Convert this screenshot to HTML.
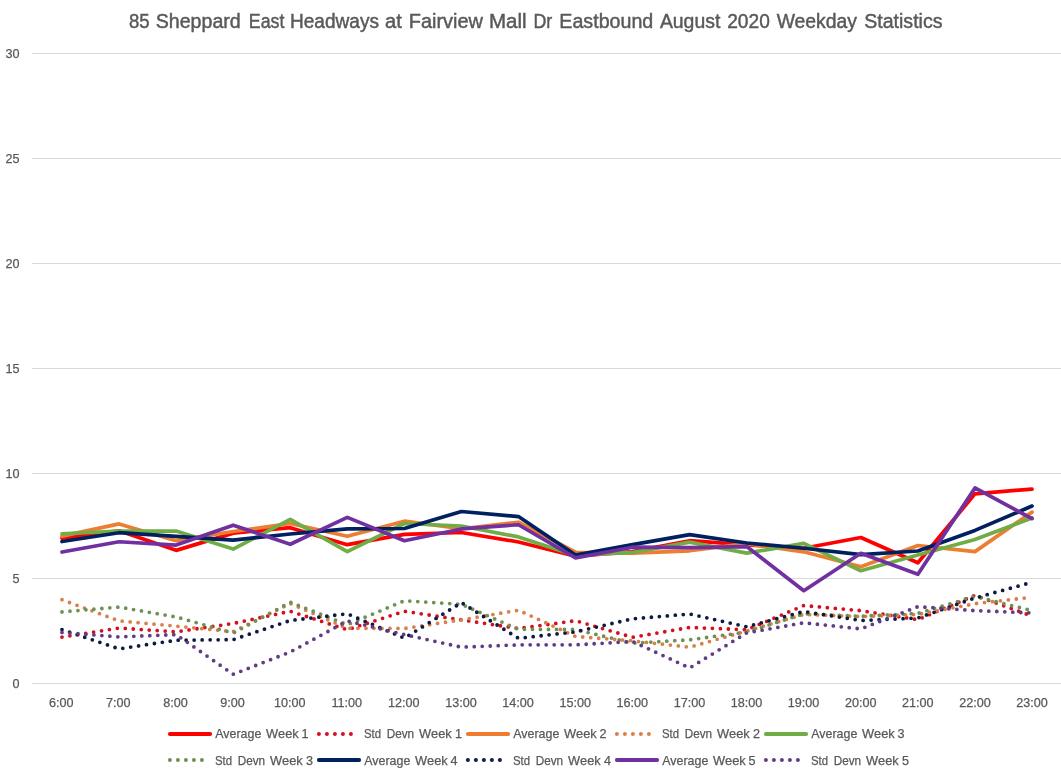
<!DOCTYPE html>
<html><head><meta charset="utf-8"><style>
html,body{margin:0;padding:0;background:#fff;}
body{width:1061px;height:779px;overflow:hidden;}
svg{display:block;font-family:"Liberation Sans",sans-serif;}
text{fill:#595959;}
.tx{filter:url(#gs);}
.t{stroke:#595959;stroke-width:0.45px;}
.s{stroke:#595959;stroke-width:0.25px;}
</style></head><body>
<svg width="1061" height="779" viewBox="0 0 1061 779">
<rect width="1061" height="779" fill="#fff"/>
<rect x="32" y="53" width="1029" height="1" fill="#D9D9D9"/>
<rect x="32" y="158" width="1029" height="1" fill="#D9D9D9"/>
<rect x="32" y="263" width="1029" height="1" fill="#D9D9D9"/>
<rect x="32" y="368" width="1029" height="1" fill="#D9D9D9"/>
<rect x="32" y="473" width="1029" height="1" fill="#D9D9D9"/>
<rect x="32" y="578" width="1029" height="1" fill="#D9D9D9"/>
<rect x="32" y="683" width="1029" height="1" fill="#D9D9D9"/>
<path d="M62.00,538.18 L119.06,530.83 L176.12,550.36 L233.18,533.14 L290.24,527.68 L347.30,544.69 L404.36,534.40 L461.42,532.51 L518.48,541.96 L575.54,556.24 L632.60,551.62 L689.66,540.70 L746.72,544.90 L803.78,548.26 L860.84,537.55 L917.90,562.75 L974.96,493.87 L1032.02,489.04" fill="none" stroke="#FF0000" stroke-width="3.7" stroke-linejoin="round" stroke-linecap="round"/>
<path d="M62.00,637.09 L119.06,628.06 L176.12,631.84 L233.18,623.44 L290.24,611.26 L347.30,629.74 L404.36,611.26 L461.42,619.87 L518.48,628.48 L575.54,620.71 L632.60,637.30 L689.66,627.43 L746.72,629.74 L803.78,605.59 L860.84,610.63 L917.90,619.66 L974.96,595.30 L1032.02,616.09" fill="none" stroke="#D41020" stroke-width="3.8" stroke-linecap="round" stroke-dasharray="0 8.0"/>
<path d="M62.00,536.08 L119.06,523.90 L176.12,540.70 L233.18,531.46 L290.24,523.48 L347.30,536.29 L404.36,521.17 L461.42,528.73 L518.48,522.22 L575.54,552.25 L632.60,553.09 L689.66,550.78 L746.72,543.64 L803.78,551.83 L860.84,566.74 L917.90,545.53 L974.96,551.62 L1032.02,512.14" fill="none" stroke="#ED7D31" stroke-width="3.7" stroke-linejoin="round" stroke-linecap="round"/>
<path d="M62.00,599.71 L119.06,620.92 L176.12,626.17 L233.18,631.63 L290.24,603.49 L347.30,628.27 L404.36,628.48 L461.42,619.87 L518.48,610.21 L575.54,636.46 L632.60,640.87 L689.66,647.17 L746.72,631.00 L803.78,614.41 L860.84,616.51 L917.90,614.41 L974.96,603.70 L1032.02,597.19" fill="none" stroke="#D9804A" stroke-width="3.8" stroke-linecap="round" stroke-dasharray="0 8.0"/>
<path d="M62.00,533.77 L119.06,531.04 L176.12,531.04 L233.18,549.10 L290.24,519.28 L347.30,551.62 L404.36,523.48 L461.42,526.00 L518.48,536.92 L575.54,555.40 L632.60,552.46 L689.66,542.17 L746.72,553.09 L803.78,543.43 L860.84,570.73 L917.90,554.98 L974.96,539.44 L1032.02,518.02" fill="none" stroke="#70AD47" stroke-width="3.7" stroke-linejoin="round" stroke-linecap="round"/>
<path d="M62.00,611.89 L119.06,607.06 L176.12,616.93 L233.18,633.10 L290.24,602.23 L347.30,624.70 L404.36,600.76 L461.42,604.33 L518.48,629.32 L575.54,629.53 L632.60,643.18 L689.66,639.82 L746.72,632.05 L803.78,613.78 L860.84,616.30 L917.90,613.36 L974.96,596.35 L1032.02,610.63" fill="none" stroke="#6E9153" stroke-width="3.8" stroke-linecap="round" stroke-dasharray="0 8.0"/>
<path d="M62.00,541.54 L119.06,532.72 L176.12,536.29 L233.18,540.07 L290.24,533.98 L347.30,528.94 L404.36,528.52 L461.42,511.51 L518.48,516.55 L575.54,554.98 L632.60,544.69 L689.66,534.61 L746.72,543.01 L803.78,548.26 L860.84,554.56 L917.90,550.99 L974.96,530.41 L1032.02,506.05" fill="none" stroke="#002060" stroke-width="3.7" stroke-linejoin="round" stroke-linecap="round"/>
<path d="M62.00,629.53 L119.06,648.85 L176.12,640.24 L233.18,639.61 L290.24,620.50 L347.30,613.78 L404.36,638.14 L461.42,602.65 L518.48,638.35 L575.54,631.84 L632.60,618.82 L689.66,613.99 L746.72,626.80 L803.78,611.47 L860.84,620.50 L917.90,617.98 L974.96,598.03 L1032.02,582.28" fill="none" stroke="#0E1A40" stroke-width="3.8" stroke-linecap="round" stroke-dasharray="0 8.0"/>
<path d="M62.00,552.04 L119.06,541.75 L176.12,545.11 L233.18,525.16 L290.24,544.27 L347.30,517.39 L404.36,540.70 L461.42,528.94 L518.48,524.74 L575.54,557.92 L632.60,547.21 L689.66,547.63 L746.72,546.58 L803.78,590.68 L860.84,553.30 L917.90,574.30 L974.96,487.99 L1032.02,518.65" fill="none" stroke="#7030A0" stroke-width="3.7" stroke-linejoin="round" stroke-linecap="round"/>
<path d="M62.00,632.47 L119.06,636.88 L176.12,634.57 L233.18,674.26 L290.24,652.00 L347.30,620.92 L404.36,634.57 L461.42,647.17 L518.48,644.86 L575.54,644.86 L632.60,641.50 L689.66,667.96 L746.72,632.89 L803.78,622.81 L860.84,628.90 L917.90,606.64 L974.96,610.63 L1032.02,612.94" fill="none" stroke="#603C86" stroke-width="3.8" stroke-linecap="round" stroke-dasharray="0 8.0"/>
<line x1="169.9" y1="733.95" x2="210.1" y2="733.95" stroke="#FF0000" stroke-width="4" stroke-linecap="round"/>
<circle cx="318.9" cy="733.95" r="2" fill="#D41020"/>
<circle cx="326.9" cy="733.95" r="2" fill="#D41020"/>
<circle cx="334.9" cy="733.95" r="2" fill="#D41020"/>
<circle cx="342.9" cy="733.95" r="2" fill="#D41020"/>
<circle cx="350.9" cy="733.95" r="2" fill="#D41020"/>
<line x1="467.9" y1="733.95" x2="508.1" y2="733.95" stroke="#ED7D31" stroke-width="4" stroke-linecap="round"/>
<circle cx="616.9" cy="733.95" r="2" fill="#D9804A"/>
<circle cx="624.9" cy="733.95" r="2" fill="#D9804A"/>
<circle cx="632.9" cy="733.95" r="2" fill="#D9804A"/>
<circle cx="640.9" cy="733.95" r="2" fill="#D9804A"/>
<circle cx="648.9" cy="733.95" r="2" fill="#D9804A"/>
<line x1="765.9" y1="733.95" x2="806.1" y2="733.95" stroke="#70AD47" stroke-width="4" stroke-linecap="round"/>
<circle cx="169.9" cy="760.0" r="2" fill="#6E9153"/>
<circle cx="177.9" cy="760.0" r="2" fill="#6E9153"/>
<circle cx="185.9" cy="760.0" r="2" fill="#6E9153"/>
<circle cx="193.9" cy="760.0" r="2" fill="#6E9153"/>
<circle cx="201.9" cy="760.0" r="2" fill="#6E9153"/>
<line x1="318.9" y1="760.0" x2="359.1" y2="760.0" stroke="#002060" stroke-width="4" stroke-linecap="round"/>
<circle cx="467.9" cy="760.0" r="2" fill="#0E1A40"/>
<circle cx="475.9" cy="760.0" r="2" fill="#0E1A40"/>
<circle cx="483.9" cy="760.0" r="2" fill="#0E1A40"/>
<circle cx="491.9" cy="760.0" r="2" fill="#0E1A40"/>
<circle cx="499.9" cy="760.0" r="2" fill="#0E1A40"/>
<line x1="616.9" y1="760.0" x2="657.1" y2="760.0" stroke="#7030A0" stroke-width="4" stroke-linecap="round"/>
<circle cx="765.9" cy="760.0" r="2" fill="#603C86"/>
<circle cx="773.9" cy="760.0" r="2" fill="#603C86"/>
<circle cx="781.9" cy="760.0" r="2" fill="#603C86"/>
<circle cx="789.9" cy="760.0" r="2" fill="#603C86"/>
<circle cx="797.9" cy="760.0" r="2" fill="#603C86"/>
<defs><filter id="gs" x="0" y="0" width="100%" height="100%" color-interpolation-filters="sRGB"><feColorMatrix type="saturate" values="0"/></filter></defs>
<g class="tx">
<text x="129.00" y="27.6" font-size="20" class="t" textLength="20.70" lengthAdjust="spacingAndGlyphs">85</text>
<text x="155.70" y="27.6" font-size="20" class="t" textLength="85.10" lengthAdjust="spacingAndGlyphs">Sheppard</text>
<text x="248.80" y="27.6" font-size="20" class="t" textLength="35.60" lengthAdjust="spacingAndGlyphs">East</text>
<text x="290.00" y="27.6" font-size="20" class="t" textLength="89.00" lengthAdjust="spacingAndGlyphs">Headways</text>
<text x="385.00" y="27.6" font-size="20" class="t" textLength="16.80" lengthAdjust="spacingAndGlyphs">at</text>
<text x="408.80" y="27.6" font-size="20" class="t" textLength="74.20" lengthAdjust="spacingAndGlyphs">Fairview</text>
<text x="489.00" y="27.6" font-size="20" class="t" textLength="37.60" lengthAdjust="spacingAndGlyphs">Mall</text>
<text x="533.50" y="27.6" font-size="20" class="t" textLength="18.80" lengthAdjust="spacingAndGlyphs">Dr</text>
<text x="559.30" y="27.6" font-size="20" class="t" textLength="94.00" lengthAdjust="spacingAndGlyphs">Eastbound</text>
<text x="659.90" y="27.6" font-size="20" class="t" textLength="60.40" lengthAdjust="spacingAndGlyphs">August</text>
<text x="727.20" y="27.6" font-size="20" class="t" textLength="42.60" lengthAdjust="spacingAndGlyphs">2020</text>
<text x="776.70" y="27.6" font-size="20" class="t" textLength="80.30" lengthAdjust="spacingAndGlyphs">Weekday</text>
<text x="864.20" y="27.6" font-size="20" class="t" textLength="78.30" lengthAdjust="spacingAndGlyphs">Statistics</text>
<text x="19.5" y="58.1" font-size="12.6" class="s" text-anchor="end">30</text>
<text x="19.5" y="163.1" font-size="12.6" class="s" text-anchor="end">25</text>
<text x="19.5" y="268.1" font-size="12.6" class="s" text-anchor="end">20</text>
<text x="19.5" y="373.1" font-size="12.6" class="s" text-anchor="end">15</text>
<text x="19.5" y="478.1" font-size="12.6" class="s" text-anchor="end">10</text>
<text x="19.5" y="583.1" font-size="12.6" class="s" text-anchor="end">5</text>
<text x="19.5" y="688.1" font-size="12.6" class="s" text-anchor="end">0</text>
<text x="61.20" y="707" font-size="12.6" class="s" text-anchor="middle">6:00</text>
<text x="118.31" y="707" font-size="12.6" class="s" text-anchor="middle">7:00</text>
<text x="175.42" y="707" font-size="12.6" class="s" text-anchor="middle">8:00</text>
<text x="232.53" y="707" font-size="12.6" class="s" text-anchor="middle">9:00</text>
<text x="289.64" y="707" font-size="12.6" class="s" text-anchor="middle">10:00</text>
<text x="346.75" y="707" font-size="12.6" class="s" text-anchor="middle">11:00</text>
<text x="403.86" y="707" font-size="12.6" class="s" text-anchor="middle">12:00</text>
<text x="460.97" y="707" font-size="12.6" class="s" text-anchor="middle">13:00</text>
<text x="518.08" y="707" font-size="12.6" class="s" text-anchor="middle">14:00</text>
<text x="575.19" y="707" font-size="12.6" class="s" text-anchor="middle">15:00</text>
<text x="632.30" y="707" font-size="12.6" class="s" text-anchor="middle">16:00</text>
<text x="689.41" y="707" font-size="12.6" class="s" text-anchor="middle">17:00</text>
<text x="746.52" y="707" font-size="12.6" class="s" text-anchor="middle">18:00</text>
<text x="803.63" y="707" font-size="12.6" class="s" text-anchor="middle">19:00</text>
<text x="860.74" y="707" font-size="12.6" class="s" text-anchor="middle">20:00</text>
<text x="917.85" y="707" font-size="12.6" class="s" text-anchor="middle">21:00</text>
<text x="974.96" y="707" font-size="12.6" class="s" text-anchor="middle">22:00</text>
<text x="1032.07" y="707" font-size="12.6" class="s" text-anchor="middle">23:00</text>
<text x="215.30" y="737.7" font-size="12.6" class="s" textLength="46.00" lengthAdjust="spacingAndGlyphs">Average</text>
<text x="266.10" y="737.7" font-size="12.6" class="s" textLength="32.60" lengthAdjust="spacingAndGlyphs">Week</text>
<text x="305.00" y="737.7" font-size="12.6" class="s" text-anchor="middle">1</text>
<text x="364.00" y="737.7" font-size="12.6" class="s" textLength="17.10" lengthAdjust="spacingAndGlyphs">Std</text>
<text x="386.70" y="737.7" font-size="12.6" class="s" textLength="27.40" lengthAdjust="spacingAndGlyphs">Devn</text>
<text x="419.10" y="737.7" font-size="12.6" class="s" textLength="32.60" lengthAdjust="spacingAndGlyphs">Week</text>
<text x="458.50" y="737.7" font-size="12.6" class="s" text-anchor="middle">1</text>
<text x="513.30" y="737.7" font-size="12.6" class="s" textLength="46.00" lengthAdjust="spacingAndGlyphs">Average</text>
<text x="564.10" y="737.7" font-size="12.6" class="s" textLength="32.60" lengthAdjust="spacingAndGlyphs">Week</text>
<text x="603.00" y="737.7" font-size="12.6" class="s" text-anchor="middle">2</text>
<text x="662.00" y="737.7" font-size="12.6" class="s" textLength="17.10" lengthAdjust="spacingAndGlyphs">Std</text>
<text x="684.70" y="737.7" font-size="12.6" class="s" textLength="27.40" lengthAdjust="spacingAndGlyphs">Devn</text>
<text x="717.10" y="737.7" font-size="12.6" class="s" textLength="32.60" lengthAdjust="spacingAndGlyphs">Week</text>
<text x="756.50" y="737.7" font-size="12.6" class="s" text-anchor="middle">2</text>
<text x="811.30" y="737.7" font-size="12.6" class="s" textLength="46.00" lengthAdjust="spacingAndGlyphs">Average</text>
<text x="862.10" y="737.7" font-size="12.6" class="s" textLength="32.60" lengthAdjust="spacingAndGlyphs">Week</text>
<text x="901.00" y="737.7" font-size="12.6" class="s" text-anchor="middle">3</text>
<text x="215.00" y="764.8" font-size="12.6" class="s" textLength="17.10" lengthAdjust="spacingAndGlyphs">Std</text>
<text x="237.70" y="764.8" font-size="12.6" class="s" textLength="27.40" lengthAdjust="spacingAndGlyphs">Devn</text>
<text x="270.10" y="764.8" font-size="12.6" class="s" textLength="32.60" lengthAdjust="spacingAndGlyphs">Week</text>
<text x="309.50" y="764.8" font-size="12.6" class="s" text-anchor="middle">3</text>
<text x="364.30" y="764.8" font-size="12.6" class="s" textLength="46.00" lengthAdjust="spacingAndGlyphs">Average</text>
<text x="415.10" y="764.8" font-size="12.6" class="s" textLength="32.60" lengthAdjust="spacingAndGlyphs">Week</text>
<text x="454.00" y="764.8" font-size="12.6" class="s" text-anchor="middle">4</text>
<text x="513.00" y="764.8" font-size="12.6" class="s" textLength="17.10" lengthAdjust="spacingAndGlyphs">Std</text>
<text x="535.70" y="764.8" font-size="12.6" class="s" textLength="27.40" lengthAdjust="spacingAndGlyphs">Devn</text>
<text x="568.10" y="764.8" font-size="12.6" class="s" textLength="32.60" lengthAdjust="spacingAndGlyphs">Week</text>
<text x="607.50" y="764.8" font-size="12.6" class="s" text-anchor="middle">4</text>
<text x="662.30" y="764.8" font-size="12.6" class="s" textLength="46.00" lengthAdjust="spacingAndGlyphs">Average</text>
<text x="713.10" y="764.8" font-size="12.6" class="s" textLength="32.60" lengthAdjust="spacingAndGlyphs">Week</text>
<text x="752.00" y="764.8" font-size="12.6" class="s" text-anchor="middle">5</text>
<text x="811.00" y="764.8" font-size="12.6" class="s" textLength="17.10" lengthAdjust="spacingAndGlyphs">Std</text>
<text x="833.70" y="764.8" font-size="12.6" class="s" textLength="27.40" lengthAdjust="spacingAndGlyphs">Devn</text>
<text x="866.10" y="764.8" font-size="12.6" class="s" textLength="32.60" lengthAdjust="spacingAndGlyphs">Week</text>
<text x="905.50" y="764.8" font-size="12.6" class="s" text-anchor="middle">5</text>
</g>
</svg>
</body></html>
